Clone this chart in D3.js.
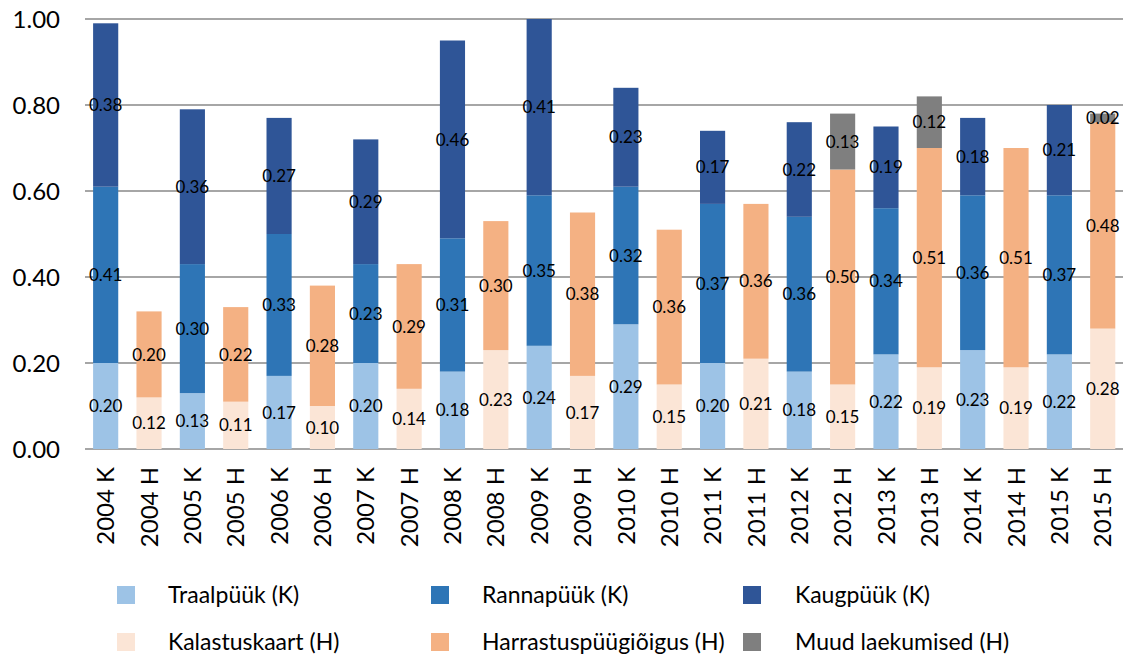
<!DOCTYPE html>
<html lang="et">
<head>
<meta charset="utf-8">
<title>Laekumised</title>
<script src="https://cdn.jsdelivr.net/npm/d3@7"></script>
<style>
  body { margin: 0; background: #fff; }
  svg text { font-family: Lato, "Open Sans", sans-serif; fill: #000; }
</style>
</head>
<body>
<div id="chart"></div>
<script>
// values per year (K = kutseline, H = harrastus)
var years = ["2004","2005","2006","2007","2008","2009","2010","2011","2012","2013","2014","2015"];
var traalpuuk     = [0.20,0.13,0.17,0.20,0.18,0.24,0.29,0.20,0.18,0.22,0.23,0.22];
var rannapuuk     = [0.41,0.30,0.33,0.23,0.31,0.35,0.32,0.37,0.36,0.34,0.36,0.37];
var kaugpuuk      = [0.38,0.36,0.27,0.29,0.46,0.41,0.23,0.17,0.22,0.19,0.18,0.21];
var kalastuskaart = [0.12,0.11,0.10,0.14,0.23,0.17,0.15,0.21,0.15,0.19,0.19,0.28];
var harrastus     = [0.20,0.22,0.28,0.29,0.30,0.38,0.36,0.36,0.50,0.51,0.51,0.48];
var muud          = [0,0,0,0,0,0,0,0,0.13,0.12,0,0.02];
var yTicks = [0, 0.2, 0.4, 0.6, 0.8, 1.0];

var seriesNames = ["Traalpüük (K)","Rannapüük (K)","Kaugpüük (K)","Kalastuskaart (H)","Harrastuspüügiõigus (H)","Muud laekumised (H)"];
var colors = ["#9dc3e6","#2e75b6","#2f5597","#fbe5d6","#f4b183","#7f7f7f"];

var w = 1123, h = 656;

// one row per bar
var rows = [];
years.forEach(function(y, i) {
  var k = {cat: y + " K"}, hh = {cat: y + " H"};
  seriesNames.forEach(function(s){ k[s] = 0; hh[s] = 0; });
  k[seriesNames[0]] = traalpuuk[i];
  k[seriesNames[1]] = rannapuuk[i];
  k[seriesNames[2]] = kaugpuuk[i];
  hh[seriesNames[3]] = kalastuskaart[i];
  hh[seriesNames[4]] = harrastus[i];
  hh[seriesNames[5]] = muud[i];
  rows.push(k, hh);
});

var stacked = d3.stack().keys(seriesNames)(rows);

var x = d3.scaleBand()
  .domain(rows.map(function(d){ return d.cat; }))
  .range([84, 84 + 24 * 43.35])
  .paddingInner(0.42)
  .paddingOuter(0.21);

var y = d3.scaleLinear().domain([0, 1]).range([449, 19]);

var svg = d3.select("#chart").append("svg").attr("width", w).attr("height", h);

// gridlines
svg.append("g").selectAll("line")
  .data(yTicks)
  .enter().append("line")
  .attr("x1", 85).attr("x2", 1130)
  .attr("y1", function(d){ return y(d); })
  .attr("y2", function(d){ return y(d); })
  .attr("stroke", "#a6a6a6")
  .attr("stroke-width", 2);

// y labels
svg.append("g").selectAll("text")
  .data(yTicks)
  .enter().append("text")
  .attr("x", 60)
  .attr("y", function(d){ return y(d); })
  .attr("dy", "0.36em")
  .attr("text-anchor", "end")
  .style("font-size", "24px")
  .text(function(d){ return d.toFixed(2); });

// bars
var layers = svg.append("g").selectAll("g")
  .data(stacked)
  .enter().append("g")
  .attr("fill", function(d, i){ return colors[i]; });

layers.selectAll("rect")
  .data(function(d){ return d.filter(function(p){ return p[1] - p[0] > 0; }); })
  .enter().append("rect")
  .attr("x", function(d){ return x(d.data.cat); })
  .attr("width", x.bandwidth())
  .attr("y", function(d){ return y(d[1]); })
  .attr("height", function(d){ return y(d[0]) - y(d[1]); });

// data labels
stacked.forEach(function(s) {
  svg.append("g").selectAll("text")
    .data(s.filter(function(p){ return p[1] - p[0] > 0; }))
    .enter().append("text")
    .attr("x", function(d){ return x(d.data.cat) + x.bandwidth() / 2; })
    .attr("y", function(d){ return y((d[0] + d[1]) / 2); })
    .attr("dy", "0.36em")
    .attr("text-anchor", "middle")
    .style("font-size", "17px")
    .text(function(d){ return d.data[s.key].toFixed(2); });
});

// x labels
svg.append("g").selectAll("text")
  .data(x.domain())
  .enter().append("text")
  .attr("transform", function(d){
    return "translate(" + (x(d) + x.bandwidth() / 2) + ",467) rotate(-90)";
  })
  .attr("dy", "0.36em")
  .attr("text-anchor", "end")
  .style("font-size", "24px")
  .text(function(d){ return d; });

// legend
var legX = [117, 431, 743];
var legY = [586, 633];
var legend = svg.append("g").selectAll("g")
  .data(seriesNames)
  .enter().append("g")
  .attr("transform", function(d, i){
    return "translate(" + legX[i % 3] + "," + legY[Math.floor(i / 3)] + ")";
  });

legend.append("rect")
  .attr("width", 18).attr("height", 18)
  .attr("fill", function(d, i){ return colors[i]; });

legend.append("text")
  .attr("x", function(d, i){ return [51, 51, 52][i % 3]; })
  .attr("y", 17)
  .style("font-size", "23px")
  .text(function(d){ return d; });
</script>
</body>
</html>
